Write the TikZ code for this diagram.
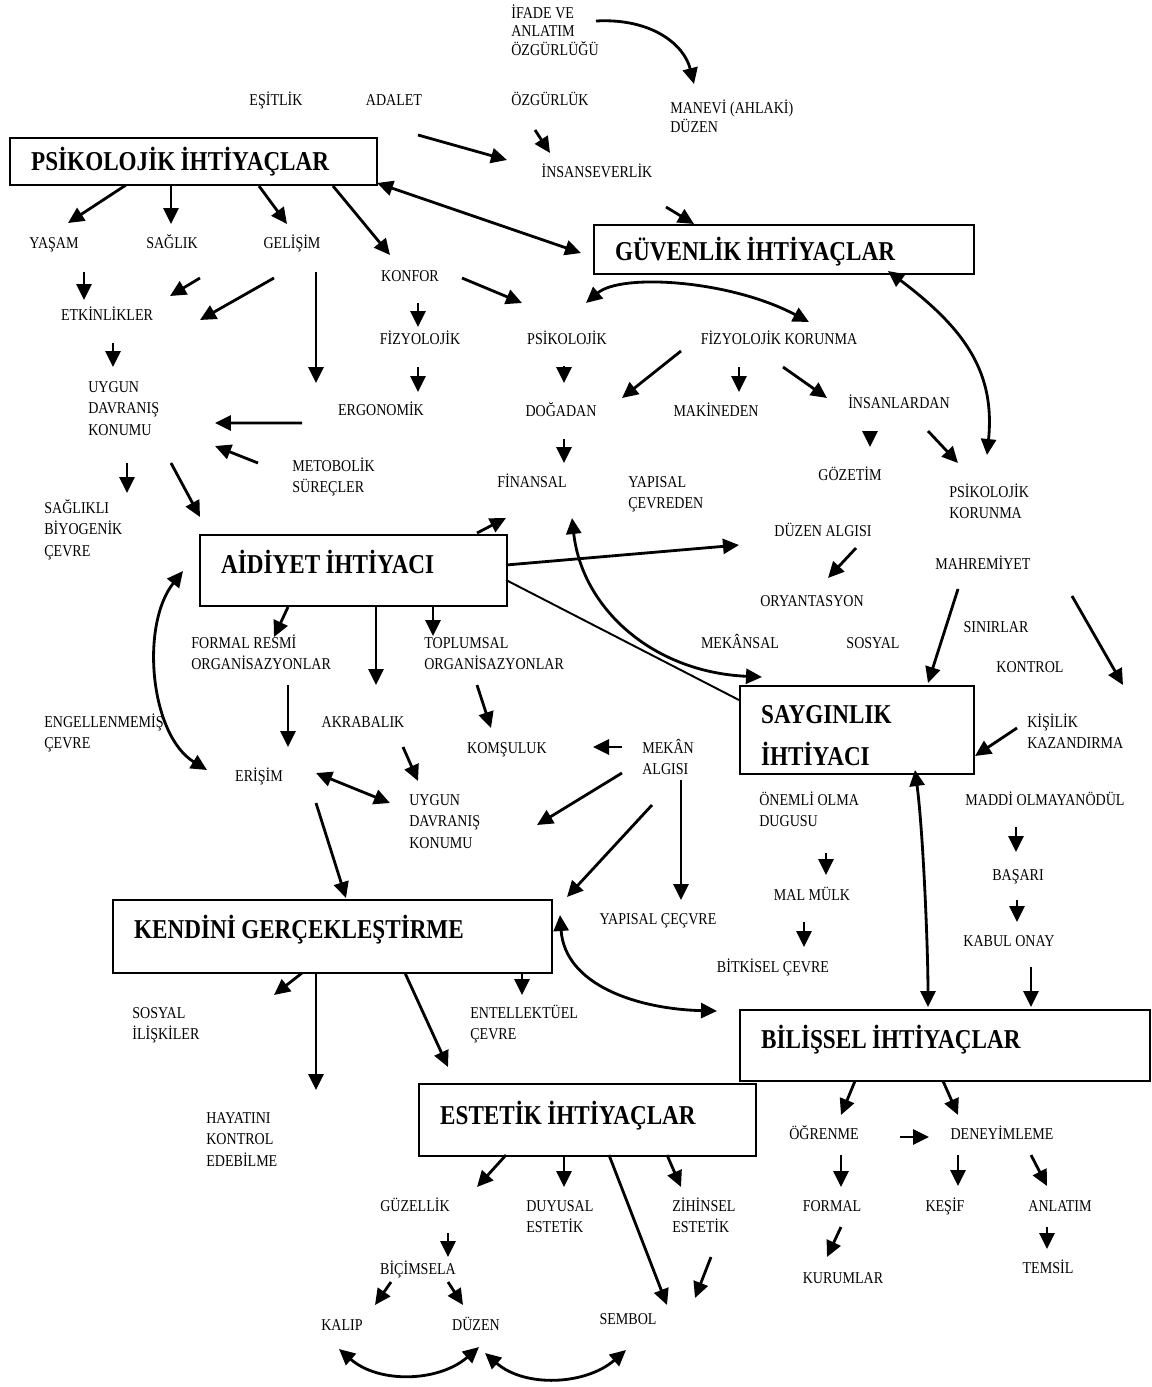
\documentclass[tikz,border=0pt]{standalone}
\usepackage{fontspec}
\setmainfont{Liberation Serif}[FakeStretch=0.85]
\usetikzlibrary{calc,arrows.meta}
\tikzset{
  lbl/.style={inner sep=0pt, font=\fontsize{9.4}{12.2}\selectfont, execute at begin node={\spaceskip=0.22em\relax}, text height=6.3pt, text depth=0pt},
  mlbl/.style={inner sep=0pt, font=\fontsize{9.4}{12.2}\selectfont, execute at begin node={\spaceskip=0.22em\relax}, align=left, text width=4cm, anchor=base west},
  box/.style={draw, line width=1.4pt, anchor=north west, align=left, inner xsep=0.42cm, inner ysep=0pt,
    font=\bfseries\fontsize{15.5}{24}\selectfont, execute at begin node={\spaceskip=0.2em\relax}, text height=10.2pt, text depth=0pt},
  arr/.style={line width=1.6pt, -{Triangle[length=0.32cm,width=0.3cm]}},
  darr/.style={line width=1.6pt, {Triangle[length=0.32cm,width=0.3cm]}-{Triangle[length=0.32cm,width=0.3cm]}},
}

\begin{document}
\begin{tikzpicture}[x=0.02cm, y=-0.02cm]
			\useasboundingbox (0,0) rectangle (1152,1387);
			%%%%% START %%%%%
			
			\node[box, text width=6.5cm, minimum height=0.94cm] (psik) at (9,137) {PSİKOLOJİK İHTİYAÇLAR};
			\node[box, text width=6.76cm, minimum height=0.98cm, text height=12.2pt] (guv) at (593,224) {GÜVENLİK İHTİYAÇLAR};
			\node[box, text width=5.3cm, minimum height=1.42cm, text depth=7.4pt] (aid) at (199,534) {AİDİYET İHTİYACI};
			\node[box, text width=3.84cm, minimum height=1.76cm, text height=15.8pt, text depth=23.9pt] (sayg) at (739,685) {SAYGINLIK\\İHTİYACI};
			\node[box, text width=7.94cm, minimum height=1.46cm, text depth=8.5pt] (kend) at (112,899) {KENDİNİ GERÇEKLEŞTİRME};
			\node[box, text width=7.36cm, minimum height=1.42cm, text depth=7.4pt] (bilis) at (739,1009) {BİLİŞSEL İHTİYAÇLAR};
			\node[box, text width=5.9cm, minimum height=1.44cm, text depth=5pt] (est) at (418,1083) {ESTETİK İHTİYAÇLAR};
			
			\node[mlbl, font=\fontsize{9.4}{10.5}\selectfont] (ifade) at (511,18.5) {İFADE VE\\ANLATIM\\ÖZGÜRLÜĞÜ};
			\node[mlbl, font=\fontsize{9.4}{10.8}\selectfont] (manevi) at (670,113.5) {MANEVİ (AHLAKİ)\\DÜZEN};
			\node[lbl] (esitlik) at (276,100) {EŞİTLİK};
			\node[lbl] (adalet) at (394,100) {ADALET};
			\node[lbl] (ozgur) at (550,100) {ÖZGÜRLÜK};
			\node[lbl] (insan) at (597,172) {İNSANSEVERLİK};
			\node[lbl] (yasam) at (54,243) {YAŞAM};
			\node[lbl] (saglik) at (172,243) {SAĞLIK};
			\node[lbl] (gelisim) at (292,243) {GELİŞİM};
			\node[lbl] (konfor) at (410,276) {KONFOR};
			\node[lbl] (etkin) at (107,315) {ETKİNLİKLER};
			\node[lbl] (fizyo) at (420,339) {FİZYOLOJİK};
			\node[lbl] (psiko) at (567,339) {PSİKOLOJİK};
			\node[lbl] (fizkor) at (779,339) {FİZYOLOJİK KORUNMA};
			\node[mlbl] (uygun) at (88,392.5) {UYGUN\\DAVRANIŞ\\KONUMU};
			\node[lbl] (ergo) at (381,410) {ERGONOMİK};
			\node[lbl] (dogadan) at (561,411) {DOĞADAN};
			\node[lbl] (makine) at (716,411) {MAKİNEDEN};
			\node[lbl] (insanlar) at (899,403) {İNSANLARDAN};
			\node[mlbl] (metob) at (292,471.5) {METOBOLİK\\SÜREÇLER};
			\node[lbl] (gozetim) at (850,475) {GÖZETİM};
			\node[lbl] (finans) at (532,482) {FİNANSAL};
			\node[mlbl] (yapisal) at (628,487.5) {YAPISAL\\ÇEVREDEN};
			\node[mlbl] (psikkor) at (949,497.5) {PSİKOLOJİK\\KORUNMA};
			\node[mlbl] (saglikli) at (44,513.5) {SAĞLIKLI\\BİYOGENİK\\ÇEVRE};
			\node[lbl] (duzenalg) at (823,531) {DÜZEN ALGISI};
			\node[lbl] (mahrem) at (983,564) {MAHREMİYET};
			\node[lbl] (oryant) at (812,601) {ORYANTASYON};
			\node[lbl] (sinir) at (996,627) {SINIRLAR};
			\node[lbl] (mekansal) at (740,643) {MEKÂNSAL};
			\node[lbl] (sosyal) at (873,643) {SOSYAL};
			\node[mlbl] (formalr) at (191,648.5) {FORMAL RESMİ\\ORGANİSAZYONLAR};
			\node[mlbl] (toplum) at (424,648.5) {TOPLUMSAL\\ORGANİSAZYONLAR};
			\node[lbl] (kontrol) at (1030,667) {KONTROL};
			\node[lbl] (akraba) at (363,722) {AKRABALIK};
			\node[mlbl] (engel) at (44,727.5) {ENGELLENMEMİŞ\\ÇEVRE};
			\node[mlbl] (kisilik) at (1027,727.5) {KİŞİLİK\\KAZANDIRMA};
			\node[lbl] (komsu) at (507,748) {KOMŞULUK};
			\node[mlbl] (mekan) at (642,753.5) {MEKÂN\\ALGISI};
			\node[lbl] (erisim) at (259,776) {ERİŞİM};
			\node[mlbl] (uygunb) at (409,805.5) {UYGUN\\DAVRANIŞ\\KONUMU};
			\node[mlbl] (onemli) at (759,805.5) {ÖNEMLİ OLMA\\DUGUSU};
			\node[lbl] (maddi) at (1045,800) {MADDİ OLMAYANÖDÜL};
			\node[lbl] (basari) at (1018,875) {BAŞARI};
			\node[lbl] (malmulk) at (812,895) {MAL MÜLK};
			\node[lbl] (yapcevre) at (658,919) {YAPISAL ÇEÇVRE};
			\node[lbl] (kabul) at (1009,941) {KABUL ONAY};
			\node[lbl] (bitki) at (773,967) {BİTKİSEL ÇEVRE};
			\node[mlbl] (sosil) at (132,1018.5) {SOSYAL\\İLİŞKİLER};
			\node[mlbl] (entel) at (470,1018.5) {ENTELLEKTÜEL\\ÇEVRE};
			\node[mlbl] (hayat) at (206,1123.5) {HAYATINI\\KONTROL\\EDEBİLME};
			\node[lbl] (ogrenme) at (824,1134) {ÖĞRENME};
			\node[lbl] (deney) at (1002,1134) {DENEYİMLEME};
			\node[lbl] (guzel) at (415,1206) {GÜZELLİK};
			\node[mlbl] (duyusal) at (526,1211.5) {DUYUSAL\\ESTETİK};
			\node[mlbl] (zihin) at (672,1211.5) {ZİHİNSEL\\ESTETİK};
			\node[lbl] (formal) at (832,1206) {FORMAL};
			\node[lbl] (kesif) at (945,1206) {KEŞİF};
			\node[lbl] (anlatim) at (1060,1206) {ANLATIM};
			\node[lbl] (temsil) at (1048,1268) {TEMSİL};
			\node[lbl] (bicim) at (418,1269) {BİÇİMSELA};
			\node[lbl] (kurum) at (843,1278) {KURUMLAR};
			\node[lbl] (sembol) at (628,1319) {SEMBOL};
			\node[lbl] (kalip) at (342,1325) {KALIP};
			\node[lbl] (duzen) at (476,1325) {DÜZEN};
			
			% top
			\draw[arr] ($(ifade.base west)+(85,2.5)$) .. controls +(55,-3) and +(-10,-40) .. ($(manevi.base west)+(24,-29.5)$);
			\draw[arr] ($(adalet)+(24,35)$) -- ($(insan)+(-90,-12)$);
			\draw[arr] ($(ozgur)+(-15,30)$) -- ($(insan)+(-47,-19)$);
			\draw[arr] ($(insan)+(69,35)$) -- ($(guv.north west)+(101,0)$);
			\draw[darr] ($(psik.north west)+(368,46)$) -- ($(guv.north west)+(-12,29)$);
			
			% psikolojik
			\draw[arr] ($(psik.north west)+(117,48)$) -- ($(yasam)+(14,-20)$);
			\draw[arr] ($(psik.north west)+(162,48)$) -- ($(saglik)+(-1,-19)$);
			\draw[arr] ($(psik.north west)+(250,49)$) -- ($(gelisim)+(-5,-19)$);
			\draw[arr] ($(psik.north west)+(324,49)$) -- ($(konfor)+(-20,-21)$);
			\draw[arr] ($(yasam)+(30,29)$) -- ($(etkin)+(-23,-15)$);
			\draw[arr] ($(saglik)+(28,35)$) -- ($(etkin)+(63,-19)$);
			\draw[arr] ($(gelisim)+(-18,35)$) -- ($(etkin)+(93,5)$);
			\draw[arr] ($(gelisim)+(24,29)$) -- ($(ergo)+(-65,-27)$);
			\draw[arr] ($(konfor)+(52,2)$) -- ($(psiko)+(-45,-36)$);
			\draw[arr] ($(konfor)+(8,27)$) -- ($(fizyo)+(-2,-12)$);
			\draw[arr] ($(fizyo)+(-2,28)$) -- ($(ergo)+(37,-18)$);
			\draw[arr] ($(etkin)+(6,28)$) -- ($(uygun.base west)+(25,-25.5)$);
			\draw[arr] ($(ergo)+(-79,13)$) -- ($(uygun.base west)+(127,30.5)$);
			\draw[arr] ($(metob.base west)+(-34,-8.5)$) -- ($(uygun.base west)+(127,53.5)$);
			\draw[arr] ($(uygun.base west)+(39,70.5)$) -- ($(saglikli.base west)+(83,-20.5)$);
			\draw[arr] ($(uygun.base west)+(83,70.5)$) -- ($(aid.north west)+(1,-17)$);
			
			% guvenlik
			\draw[arr] ($(psiko)+(-3,27)$) -- ($(dogadan)+(3,-28)$);
			\draw[arr] ($(dogadan)+(3,28)$) -- ($(finans)+(32,-19)$);
			\draw[darr] ($(psiko)+(19,-36)$) .. controls +(35,-30) and +(-79,-42) .. ($(fizkor)+(30,-17)$);
			\draw[arr] ($(fizkor)+(-98,12)$) -- ($(dogadan)+(61,-13)$);
			\draw[arr] ($(fizkor)+(-40,28)$) -- ($(makine)+(23,-19)$);
			\draw[arr] ($(fizkor)+(4,28)$) -- ($(insanlar)+(-72,-5)$);
			\draw[darr] ($(guv.north west)+(295,47)$) .. controls +(80,60) and +(8,-80) .. ($(psikkor.base west)+(38,-42.5)$);
			\draw[arr] ($(insanlar)+(-29,28)$) -- ($(gozetim)+(20,-28)$);
			\draw[arr] ($(insanlar)+(29,28)$) -- ($(psikkor.base west)+(9,-34.5)$);
			
			% aidiyet
			\draw[arr] ($(aid.north west)+(278,-1)$) -- ($(finans)+(-26,36)$);
			\draw[arr] ($(aid.north west)+(307,31)$) -- ($(duzenalg)+(-84,14)$);
			\draw[line width=1.1pt] ($(aid.north west)+(307,46)$) -- ($(sayg.north west)+(0,15)$);
			\draw[darr] ($(finans)+(40,36)$) .. controls +(10,90) and +(-110,-5) .. ($(sayg.north west)+(23,-8)$);
			\draw[darr] ($(aid.north west)+(-16,37)$) .. controls +(-43,54) and +(-57,-35) .. ($(erisim)+(-52,-6)$);
			\draw[arr] ($(aid.north west)+(89,73)$) -- ($(formalr.base west)+(83,-11.5)$);
			\draw[arr] ($(aid.north west)+(177,73)$) -- ($(akraba)+(13,-37)$);
			\draw[arr] ($(aid.north west)+(234,73)$) -- ($(toplum.base west)+(9,-12.5)$);
			\draw[arr] ($(formalr.base west)+(97,36.5)$) -- ($(erisim)+(29,-29)$);
			\draw[arr] ($(toplum.base west)+(53,36.5)$) -- ($(komsu)+(-16,-20)$);
			\draw[arr] ($(akraba)+(40,25)$) -- ($(uygunb.base west)+(9,-24.5)$);
			\draw[darr] ($(erisim)+(57,-3)$) -- ($(uygunb.base west)+(-19,-2.5)$);
			\draw[arr] ($(erisim)+(57,27)$) -- ($(kend.north west)+(234,-1)$);
			
			% saygınlık
			\draw[arr] ($(duzenalg)+(33,17)$) -- ($(oryant)+(16,-23)$);
			\draw[arr] ($(mahrem)+(-25,25)$) -- ($(sayg.north west)+(189,-2)$);
			\draw[arr] ($(mahrem)+(89,32)$) -- ($(kisilik.base west)+(96,-42.5)$);
			\draw[arr] ($(kisilik.base west)+(-10,0.5)$) -- ($(sayg.north west)+(236,71)$);
			\draw[arr] ($(mekan.base west)+(-20,-6.5)$) -- ($(komsu)+(86,-1)$);
			\draw[arr] ($(mekan.base west)+(-20,19.5)$) -- ($(uygunb.base west)+(128,19.5)$);
			\draw[arr] ($(mekan.base west)+(10,51.5)$) -- ($(kend.north west)+(455,-2)$);
			\draw[arr] ($(mekan.base west)+(39,26.5)$) -- ($(yapcevre)+(23,-19)$);
			\draw[arr] ($(onemli.base west)+(67,47.5)$) -- ($(malmulk)+(14,-20)$);
			\draw[arr] ($(malmulk)+(-8,27)$) -- ($(bitki)+(31,-20)$);
			\draw[arr] ($(maddi)+(-29,27)$) -- ($(basari)+(-2,-23)$);
			\draw[arr] ($(basari)+(-1,25)$) -- ($(kabul)+(8,-19)$);
			\draw[arr] ($(kabul)+(22,26)$) -- ($(bilis.north west)+(292,-2)$);
			\draw[darr] ($(sayg.north west)+(176,85)$) .. controls +(8,60) and +(0,-60) .. ($(bilis.north west)+(189,-2)$);
			
			% kendini gerceklestirme
			\draw[darr] ($(kend.north west)+(448,16)$) .. controls +(5,70) and +(-80,-2) .. ($(bilis.north west)+(-22,2)$);
			\draw[arr] ($(kend.north west)+(190,74)$) -- ($(sosil.base west)+(142,-23.5)$);
			\draw[arr] ($(kend.north west)+(204,74)$) -- ($(hayat.base west)+(110,-33.5)$);
			\draw[arr] ($(kend.north west)+(293,74)$) -- ($(est.north west)+(30,-16)$);
			\draw[arr] ($(kend.north west)+(410,74)$) -- ($(entel.base west)+(52,-23.5)$);
			
			% bilissel
			\draw[arr] ($(bilis.north west)+(116,72)$) -- ($(ogrenme)+(17,-19)$);
			\draw[arr] ($(bilis.north west)+(204,72)$) -- ($(deney)+(-44,-19)$);
			\draw[arr] ($(ogrenme)+(76,3)$) -- ($(deney)+(-73,3)$);
			\draw[arr] ($(deney)+(-44,21)$) -- ($(kesif)+(13,-20)$);
			\draw[arr] ($(deney)+(29,21)$) -- ($(anlatim)+(-13,-20)$);
			\draw[arr] ($(anlatim)+(-13,21)$) -- ($(temsil)+(-1,-19)$);
			\draw[arr] ($(ogrenme)+(17,21)$) -- ($(formal)+(9,-19)$);
			\draw[arr] ($(formal)+(9,21)$) -- ($(kurum)+(-16,-21)$);
			
			% estetik
			\draw[arr] ($(est.north west)+(88,72)$) -- ($(guzel)+(62,-19)$);
			\draw[arr] ($(est.north west)+(146,72)$) -- ($(duyusal.base west)+(38,-24.5)$);
			\draw[arr] ($(est.north west)+(191,72)$) -- ($(sembol)+(39,-14)$);
			\draw[arr] ($(est.north west)+(249,72)$) -- ($(zihin.base west)+(9,-24.5)$);
			\draw[arr] ($(zihin.base west)+(39,45.5)$) -- ($(sembol)+(67,-21)$);
			\draw[arr] ($(guzel)+(33,27)$) -- ($(bicim)+(30,-12)$);
			\draw[arr] ($(bicim)+(-27,13)$) -- ($(kalip)+(33,-20)$);
			\draw[arr] ($(bicim)+(30,13)$) -- ($(duzen)+(-13,-20)$);
			\draw[darr] ($(kalip)+(-3,24)$) .. controls +(40,35) and +(-40,35) .. ($(duzen)+(3,22)$);
			\draw[darr] ($(duzen)+(9,28)$) .. controls +(40,35) and +(-40,35) .. ($(sembol)+(-2,31)$);
			
			%%%%% END %%%%%
\end{tikzpicture}
\end{document}
